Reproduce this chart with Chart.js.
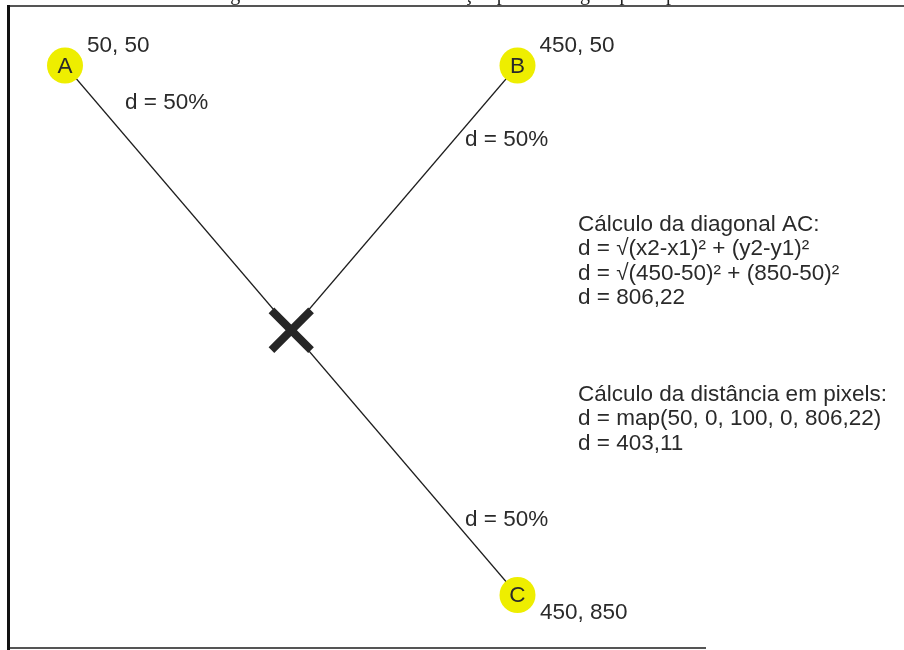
<!DOCTYPE html>
<html>
<head>
<meta charset="utf-8">
<script src="https://cdn.jsdelivr.net/npm/chart.js@4/dist/chart.umd.min.js"></script>
<style>
  html, body { margin: 0; padding: 0; background: #fff; }
  #wrap { width: 904px; height: 650px; position: relative; }
</style>
</head>
<body>
<div id="wrap"><canvas id="chart"></canvas></div>
<script>
// pontos do diagrama (coordenadas em pixels da tela original)
const pointNames = ['A', 'B', 'C'];
const pointX = [50, 450, 450];
const pointY = [50, 50, 850];
const percent = 50;

const caption = 'Figura 15 – Cálculo da localização para a imagem principal';
const diagonalLines = [
  'Cálculo da diagonal AC:',
  'd = √(x2-x1)² + (y2-y1)²',
  'd = √(450-50)² + (850-50)²',
  'd = 806,22'
];
const pixelLines = [
  'Cálculo da distância em pixels:',
  'd = map(50, 0, 100, 0, 806,22)',
  'd = 403,11'
];

// ponto de cruzamento: percent% do caminho de A até C
const crossX = pointX[0] + (pointX[2] - pointX[0]) * percent / 100;
const crossY = pointY[0] + (pointY[2] - pointY[0]) * percent / 100;

const pts = pointNames.map((n, i) => ({ x: pointX[i], y: pointY[i] }));

const FONT = '22.5px "Liberation Sans", Arial, sans-serif';
const TEXT = '#2a2a2a';

const drawExtras = {
  id: 'drawExtras',
  afterDatasetsDraw(chart) {
    const ctx = chart.ctx;
    const xs = chart.scales.x, ys = chart.scales.y;
    const px = i => xs.getPixelForValue(pointX[i]);
    const py = i => ys.getPixelForValue(pointY[i]);
    ctx.save();

    // moldura
    ctx.fillStyle = '#555';
    ctx.fillRect(8, 5, 896, 2);
    ctx.fillRect(8, 647, 698, 2);
    ctx.fillStyle = '#111';
    ctx.fillRect(7, 5, 3, 645);

    // legenda cortada no topo
    ctx.fillStyle = '#222';
    ctx.font = '20px "Liberation Serif", serif';
    ctx.textAlign = 'center';
    ctx.textBaseline = 'alphabetic';
    ctx.fillText(caption, 452, 0);

    // letras nos círculos
    ctx.font = FONT;
    ctx.fillStyle = TEXT;
    ctx.textBaseline = 'middle';
    pointNames.forEach((n, i) => ctx.fillText(n, px(i), py(i) + 1));

    // coordenadas de cada ponto
    ctx.textAlign = 'left';
    ctx.textBaseline = 'alphabetic';
    const coordOff = [[22, -13], [22, -13.5], [22.5, 24]];
    pointNames.forEach((n, i) => {
      ctx.fillText(pointX[i] + ', ' + pointY[i], px(i) + coordOff[i][0], py(i) + coordOff[i][1]);
    });

    // rótulos d = 50%
    const dOff = [[60, 43.5], [-52.5, 80.5], [-52.5, -69]];
    pointNames.forEach((n, i) => {
      ctx.fillText('d = ' + percent + '%', px(i) + dOff[i][0], py(i) + dOff[i][1]);
    });

    // blocos de cálculo
    diagonalLines.forEach((t, k) => ctx.fillText(t, 578, 231 + k * 24.4));
    pixelLines.forEach((t, k) => ctx.fillText(t, 578, 401 + k * 24.4));

    ctx.restore();
  }
};

new Chart(document.getElementById('chart'), {
  type: 'scatter',
  data: {
    datasets: [
      {
        type: 'line',
        data: [pts[0], pts[2]],
        borderColor: '#1e1e1e',
        borderWidth: 1.2,
        pointRadius: 0,
        showLine: true,
        order: 3
      },
      {
        type: 'line',
        data: [pts[1], { x: crossX, y: crossY }],
        borderColor: '#1e1e1e',
        borderWidth: 1.2,
        pointRadius: 0,
        showLine: true,
        order: 3
      },
      {
        data: [{ x: crossX, y: crossY }],
        pointStyle: 'crossRot',
        pointRadius: 28,
        pointBorderWidth: 8,
        pointBorderColor: '#262626',
        borderColor: '#262626',
        order: 1
      },
      {
        data: pts,
        pointStyle: 'circle',
        pointRadius: 18,
        pointBorderWidth: 0,
        pointBackgroundColor: '#eeee00',
        backgroundColor: '#eeee00',
        borderWidth: 0,
        order: 0
      }
    ]
  },
  options: {
    responsive: true,
    maintainAspectRatio: false,
    animation: false,
    clip: false,
    layout: { autoPadding: false, padding: 0 },
    plugins: { legend: { display: false }, tooltip: { enabled: false } },
    scales: {
      x: { type: 'linear', display: false, min: -7.46, max: 791.66 },
      y: { type: 'linear', display: false, reverse: true, min: -48.96, max: 933.1 }
    }
  },
  plugins: [drawExtras]
});
</script>
</body>
</html>
